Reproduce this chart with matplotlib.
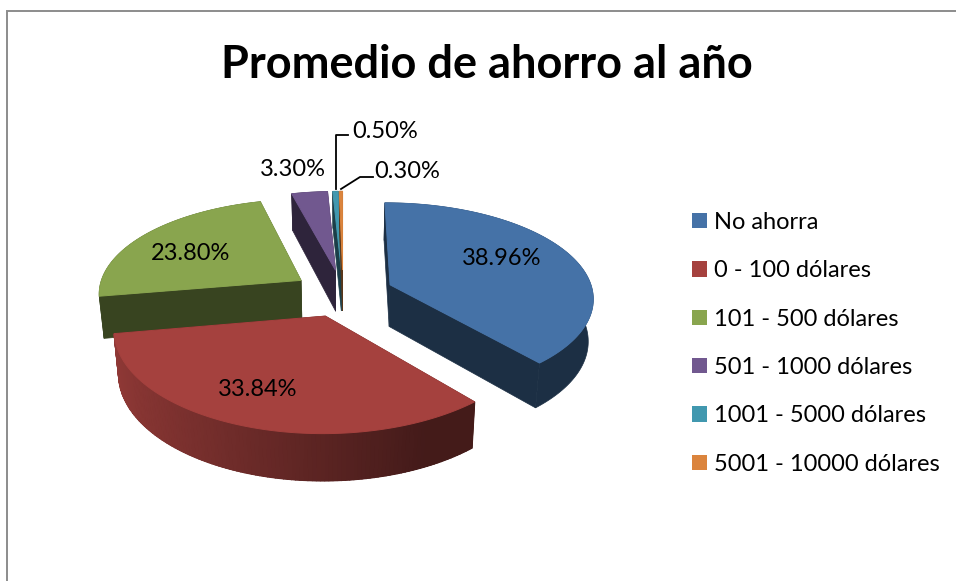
import numpy as np
import matplotlib
matplotlib.use("Agg")
import matplotlib.pyplot as plt
from matplotlib.patches import Patch, Polygon

title = "Promedio de ahorro al año"
categories = ["No ahorra", "0 - 100 dólares", "101 - 500 dólares", "501 - 1000 dólares",
              "1001 - 5000 dólares", "5001 - 10000 dólares"]
percents = [38.96, 33.84, 23.80, 3.30, 0.50, 0.30]
colors = ["#4572a7", "#a5413e", "#89a54e", "#71588f", "#4198af", "#db843d"]

# pie projection, all in pixels of the 956x581 picture
CX, CY = 343, 293
RX, RY = 203, 95
PERSP_X, PERSP_Y = 0.125, 0.134
EXPLODE = 0.25
DEPTH = 42
DARK = 0.41

plt.rcParams["font.family"] = ["Lato", "DejaVu Sans"]


def project(u, v, lower=False):
    x = CX + RX * u / (1 - PERSP_X * v)
    y = CY + RY * v / (1 - PERSP_Y * v)
    if lower:
        x = CX + (x - CX) * 0.98
        y = y + DEPTH * (1 + 0.1 * v)
    return x, y


def shade(color, factor):
    return tuple(c * factor for c in matplotlib.colors.to_rgb(color))


def draw_slice(ax, start, end, color, z):
    mid = np.radians((start + end) / 2)
    ou, ov = EXPLODE * np.sin(mid), -EXPLODE * np.cos(mid)
    thetas = np.radians(np.linspace(start, end, max(int(end - start), 2) + 1))
    us = ou + np.sin(thetas)
    vs = ov - np.cos(thetas)
    dark = shade(color, DARK)
    upper = [project(u, v) for u, v in zip(us, vs)]
    lower = [project(u, v, True) for u, v in zip(us, vs)]

    # the two cut faces
    for u, v in [(us[0], vs[0]), (us[-1], vs[-1])]:
        face = [project(ou, ov), project(u, v), project(u, v, True), project(ou, ov, True)]
        ax.add_patch(Polygon(face, closed=True, fc=dark, ec=dark, lw=0.5, zorder=z))

    # outer wall as one piece
    ax.add_patch(Polygon(upper + lower[::-1], closed=True, fc=dark, ec=dark, lw=0.5, zorder=z))

    # only the slice facing the viewer catches the light, stronger to the left
    if ov > 0:
        for i in range(len(thetas) - 1):
            nx = np.sin((thetas[i] + thetas[i + 1]) / 2)
            f = np.clip(0.42 + 0.45 * (0.4 - nx) / 1.4, DARK, 0.87)
            c = shade(color, f)
            wall = [upper[i], upper[i + 1], lower[i + 1], lower[i]]
            ax.add_patch(Polygon(wall, closed=True, fc=c, ec=c, lw=1.0, zorder=z))

    # top of the slice
    top = [project(ou, ov)] + upper
    ax.add_patch(Polygon(top, closed=True, fc=color, ec=color, lw=0.7, zorder=z + 0.5))


fig = plt.figure(figsize=(9.56, 5.81), dpi=100)
ax = fig.add_axes([0, 0, 1, 1])
ax.set_xlim(0, 956)
ax.set_ylim(581, 0)
ax.axis("off")

# chart border, cut off by the screenshot at right and bottom
ax.plot([7, 7, 956], [581, 11, 11], color="#8c8c8c", lw=1.4, solid_joinstyle="miter")

ax.text(487, 65, title, fontsize=32.5, fontweight="bold", ha="center", va="center", color="black")

shares = np.array(percents) / sum(percents) * 360
edges = np.concatenate([[0], np.cumsum(shares)])
draw_order = [3, 4, 5, 2, 0, 1]  # far slices first
for n, i in enumerate(draw_order):
    draw_slice(ax, edges[i], edges[i + 1], colors[i], 2 + n)

# data labels
label_pos = [(502, 258.5), (258, 389.5), (191, 253.5), (293, 170), (385, 131), (407, 172)]
for pct, (x, y) in zip(percents, label_pos):
    ax.text(x, y, f"{pct:.2f}%", fontsize=17, ha="center", va="center", color="black", zorder=20)

# leader lines of the two thin slices
ax.plot([336, 336, 348], [189, 135, 135], color="black", lw=1.3, zorder=20)
ax.plot([341, 360, 373], [189, 177, 177], color="black", lw=1.3, zorder=20)

handles = [Patch(fc=c, ec="none") for c in colors]
ax.legend(handles, categories, loc="upper left", bbox_to_anchor=(692, 212),
          bbox_transform=ax.transData, frameon=False, fontsize=17, borderpad=0, borderaxespad=0,
          handlelength=0.63, handleheight=0.63, handletextpad=0.3, labelspacing=1.157)

fig.savefig("out.png", dpi=100)
